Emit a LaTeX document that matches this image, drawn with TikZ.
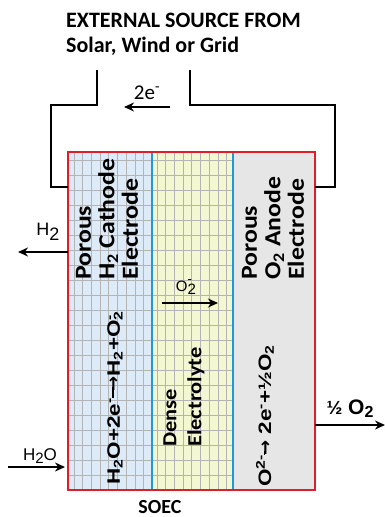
\documentclass[tikz,border=0pt]{standalone}
\usepackage{fontspec}
\setmainfont{Carlito}
\newfontfamily\labelfont[FakeStretch=1.12]{Carlito}
\newfontfamily\reactfont[FakeStretch=1.25]{Liberation Sans}
\newfontfamily\arialfont{Liberation Sans}
\newfontfamily\arrowfont{DejaVu Sans}
\usepackage{xcolor}
\usetikzlibrary{arrows.meta}

\definecolor{cathodeblue}{RGB}{220,235,247}
\definecolor{electyellow}{RGB}{243,247,210}
\definecolor{anodegray}{RGB}{230,230,230}
\definecolor{gridgray}{RGB}{180,180,180}
\definecolor{sepblue}{RGB}{30,155,215}
\definecolor{cellred}{RGB}{225,30,40}

% ion with stacked sub- and superscript
\newcommand{\ionsym}[3]{#1\rlap{\textsuperscript{#3}}\textsubscript{#2}}
% long reaction arrow
\newcommand{\longarr}[1]{{\rule[0.32em]{#1}{0.1em}\kern-0.25em\arrowfont\bfseries →}}

\begin{document}
\begin{tikzpicture}[x=1pt, y=-1pt, >={Stealth[length=10pt, width=9pt]},
    wire/.style={line width=1.5pt},
    flow/.style={->, line width=1.5pt},
    gridline/.style={gridgray, line width=0.7pt},
    layer/.style={rotate=90, anchor=west, align=left, inner sep=0pt},
    tag/.style={inner sep=0pt, anchor=base}]
    \useasboundingbox (0,0) rectangle (385,517);

    % cell layers
    \fill[cathodeblue] (68,152) rectangle (152,490);
    \fill[electyellow] (152,152) rectangle (233,490);
    \fill[anodegray] (233,152) rectangle (315,490);
    \foreach \i in {0,...,8} {
        \draw[gridline] (74+8.7*\i,152) -- (74+8.7*\i,490);
        \draw[gridline] (157+8.7*\i,152) -- (157+8.7*\i,490);
    }
    \foreach \y in {160,175,...,485}
        \draw[gridline] (68,\y) -- (233,\y);
    \draw[sepblue, line width=2.5pt] (152,152) -- (152,490) (233,152) -- (233,490);
    \draw[cellred, line width=2.5pt] (68,152) rectangle (315,490);

    % external circuit
    \node[tag, anchor=base west, font=\bfseries\fontsize{22}{26}\selectfont] (source) at (66,27) {EXTERNAL SOURCE FROM};
    \node[tag, anchor=base west, font=\bfseries\fontsize{22}{26}\selectfont] (sourcekind) at (66,52) {Solar, Wind or Grid};
    \coordinate (srcL) at (97,70);
    \coordinate (srcR) at (190,70);
    \coordinate (cathW) at (68,187);
    \coordinate (anodW) at (315,187);
    \draw[wire] (srcL) |- (51,105) |- (cathW);
    \draw[wire] (srcR) |- (335,105) |- (anodW);
    \coordinate (eR) at (170,107);
    \coordinate (eL) at (124,107);
    \draw[flow] (eR) -- (eL);
    \node[tag, font=\fontsize{21}{24}\selectfont] (elec) at (147,99) {2e\textsuperscript{-}};

    % gas flows
    \coordinate (h2in) at (68,252);
    \coordinate (h2out) at (18,252);
    \draw[flow] (h2in) -- (h2out);
    \node[tag, font=\arialfont\fontsize{18}{20}\selectfont] (h2) at (48,235) {H\raisebox{-5pt}{2}};
    \coordinate (waterL) at (8,467);
    \coordinate (waterR) at (65,467);
    \draw[flow] (waterL) -- (waterR);
    \node[tag, font=\arialfont\fontsize{17}{18}\selectfont] (water) at (40,460) {H\raisebox{-3pt}{\fontsize{15}{15}\selectfont 2}O};
    \coordinate (o2in) at (315,425);
    \coordinate (o2out) at (385,425);
    \draw[flow] (o2in) -- (o2out);
    \node[tag, font=\arialfont\bfseries\fontsize{21}{22}\selectfont] (oxygen) at (350,414) {{\fontsize{19}{19}\selectfont ½} O\raisebox{-3pt}{\fontsize{16}{16}\selectfont 2}};
    \coordinate (ionL) at (162,303);
    \coordinate (ionR) at (218,303);
    \draw[flow] (ionL) -- (ionR);
    \node[tag, font=\arialfont\fontsize{15}{16}\selectfont] (ion) at (186,291) {O\rlap{\raisebox{8pt}{\fontsize{13}{13}\selectfont -}}\raisebox{-3pt}{2}};

    % layer labels
    \node[layer, font=\labelfont\bfseries\fontsize{23}{23.5}\selectfont] (cathode) at (107,280) {Porous\\H\textsubscript{2} Cathode\\Electrode};
    \node[layer, font=\labelfont\bfseries\fontsize{20}{25}\selectfont] (electrolyte) at (184,447) {Dense\\Electrolyte};
    \node[layer, font=\labelfont\bfseries\fontsize{23}{23.5}\selectfont] (anode) at (273,280) {Porous\\O\textsubscript{2} Anode\\Electrode};
    \node[layer, font=\reactfont\bfseries\fontsize{18}{20}\selectfont] (cathrx) at (115,485) {H\textsubscript{2}O+2e\textsuperscript{-}\longarr{0.6em}H\textsubscript{2}+\ionsym{O}{2}{-}};
    \node[layer, font=\reactfont\bfseries\fontsize{18}{20}\selectfont] (anodrx) at (265,487) {O\textsuperscript{2-}\longarr{0.2em} 2e\textsuperscript{-}+½O\textsubscript{2}};
    \node[tag, font=\bfseries\fontsize{20}{22}\selectfont] (soec) at (160,513) {SOEC};
\end{tikzpicture}
\end{document}
